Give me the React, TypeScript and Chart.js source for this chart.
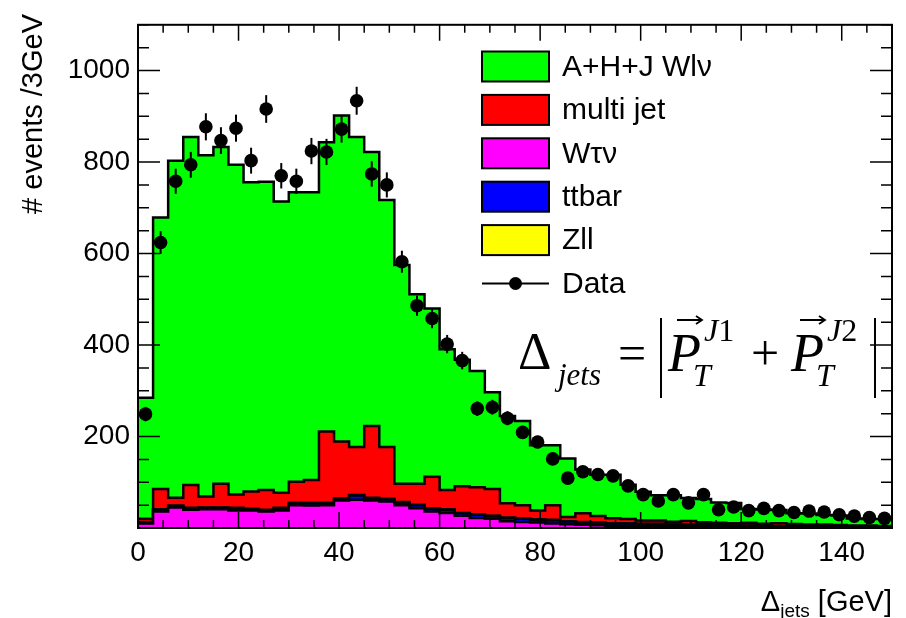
import React, { useEffect, useRef } from 'react';
import { Chart, registerables } from 'chart.js';

Chart.register(...registerables);

// ---------------- data ----------------
const BIN_WIDTH = 3; // GeV
const binLowEdges = [
  0, 3, 6, 9, 12, 15, 18, 21, 24, 27,
  30, 33, 36, 39, 42, 45, 48, 51, 54, 57,
  60, 63, 66, 69, 72, 75, 78, 81, 84, 87,
  90, 93, 96, 99, 102, 105, 108, 111, 114, 117,
  120, 123, 126, 129, 132, 135, 138, 141, 144, 147,
];

// A+H+J W->l nu
const wlnu = [
  265, 594, 737, 761, 746, 736, 721, 676, 674, 637,
  633, 629, 632, 713, 678, 599, 540, 478, 414, 368,
  308, 277, 254, 212, 191, 184, 143, 131, 128, 96,
  90, 95, 75, 63, 55, 58, 50, 51, 44, 44,
  30, 31, 29, 24, 24, 21, 21, 15, 14, 15,
];
const multijet = [
  7, 44, 17, 50, 24, 52, 29, 38, 43, 33,
  46, 50, 156, 124, 105, 157, 113, 40, 46, 69,
  42, 58, 59, 58, 31, 29, 19, 32, 9, 19,
  14, 11, 9, 7, 7, 6, 8, 5, 5, 5,
  6, 4, 6, 4, 3, 4, 3, 3, 3, 2,
];
const wtaunu = [
  10, 36, 45, 40, 41, 41, 38, 38, 36, 38,
  50, 49, 50, 60, 62, 60, 58, 50, 43, 36,
  33, 27, 22, 20, 15, 13, 12, 10, 8, 7,
  6, 5, 5, 4, 4, 3, 3, 3, 3, 2,
  2, 2, 2, 2, 2, 1, 1, 1, 1, 1,
];
const ttbar = [
  2, 4, 3, 3, 3, 3, 5, 3, 3, 5,
  4, 5, 4, 4, 9, 5, 5, 6, 7, 6,
  7, 5, 7, 6, 7, 7, 6, 7, 6, 5,
  6, 5, 5, 5, 5, 4, 4, 4, 3, 3,
  3, 3, 2, 2, 2, 2, 2, 1, 1, 1,
];
const zll = [
  1, 1, 1, 1, 1, 1, 1, 1, 1, 1,
  1, 1, 1, 1, 1, 1, 1, 1, 1, 1,
  1, 1, 1, 1, 1, 1, 1, 1, 1, 1,
  0.5, 0.5, 0.5, 0.5, 0.5, 0.5, 0.5, 0.5, 0.5, 0.5,
  0.5, 0.5, 0.5, 0.5, 0.5, 0.5, 0.5, 0.5, 0.5, 0.5,
];
const dataCounts = [
  249, 624, 758, 794, 877, 847, 874, 803, 916, 770,
  758, 824, 822, 872, 934, 774, 750, 582, 486, 458,
  402, 366, 261, 264, 240, 209, 188, 151, 109, 123,
  117, 114, 92, 73, 59, 73, 55, 73, 40, 46,
  38, 43, 38, 34, 37, 35, 29, 26, 23, 21,
];

const xTickValues = [0, 20, 40, 60, 80, 100, 120, 140];
const yTickValues = [200, 400, 600, 800, 1000];

const seriesNames = ['A+H+J Wl\u03bd', 'multi jet', 'W\u03c4\u03bd', 'ttbar', 'Zll'];
const seriesColors = ['#00ff00', '#ff0000', '#ff00ff', '#0000ff', '#ffff00'];

const X_MIN = 0;
const X_MAX = 150;
const Y_MAX = 1100;

const SANS = '"Liberation Sans", Arial, Helvetica, sans-serif';
const SERIF = '"Liberation Serif", "Times New Roman", serif';

// ---------------- helpers ----------------
function cumulate(parts: number[][]): number[] {
  return parts[0].map((_, i) => parts.reduce((s, p) => s + p[i], 0));
}
function histPoints(values: number[]) {
  const pts: { x: number; y: number }[] = [];
  values.forEach((v, i) => {
    pts.push({ x: binLowEdges[i], y: v });
    pts.push({ x: binLowEdges[i] + BIN_WIDTH, y: v });
  });
  return pts;
}

const rootPlugin = {
  id: 'rootStyle',
  afterDatasetsDraw(chart: any) {
    const { ctx, chartArea: a, scales } = chart;
    const xs = scales.x;
    const ys = scales.y;
    ctx.save();

    // error bars on data
    ctx.strokeStyle = '#000';
    ctx.lineWidth = 2;
    dataCounts.forEach((n, i) => {
      const cx = xs.getPixelForValue(binLowEdges[i] + BIN_WIDTH / 2);
      const e = Math.sqrt(n);
      ctx.beginPath();
      ctx.moveTo(cx, ys.getPixelForValue(n - e));
      ctx.lineTo(cx, ys.getPixelForValue(n + e));
      ctx.stroke();
    });

    // frame
    ctx.lineWidth = 2;
    ctx.strokeRect(a.left, a.top, a.right - a.left, a.bottom - a.top);

    // y ticks (inside, both sides)
    ctx.lineWidth = 1.5;
    for (let v = 0; v <= Y_MAX; v += 50) {
      const py = ys.getPixelForValue(v);
      const major = v % 200 === 0;
      const len = major ? 22 : 11;
      ctx.beginPath();
      ctx.moveTo(a.left, py);
      ctx.lineTo(a.left + len, py);
      ctx.moveTo(a.right, py);
      ctx.lineTo(a.right - len, py);
      ctx.stroke();
    }
    // x ticks (inside, bottom and top)
    for (let v = 0; v <= X_MAX; v += 5) {
      const px = xs.getPixelForValue(v);
      const major = v % 20 === 0;
      const len = major ? 16 : 8;
      ctx.beginPath();
      ctx.moveTo(px, a.bottom);
      ctx.lineTo(px, a.bottom - len);
      ctx.moveTo(px, a.top);
      ctx.lineTo(px, a.top + len);
      ctx.stroke();
    }

    // legend
    const lx = 482;
    const bw = 67;
    const bh = 30;
    const y0 = 66.5;
    const dy = 43.4;
    ctx.font = `30px ${SANS}`;
    ctx.textBaseline = 'middle';
    ctx.textAlign = 'left';
    seriesNames.forEach((name, i) => {
      const cy = y0 + i * dy;
      ctx.fillStyle = seriesColors[i];
      ctx.fillRect(lx, cy - bh / 2, bw, bh);
      ctx.strokeStyle = '#000';
      ctx.lineWidth = 2;
      ctx.strokeRect(lx, cy - bh / 2, bw, bh);
      ctx.fillStyle = '#000';
      ctx.fillText(name, 562, cy + 1);
    });
    {
      const cy = y0 + 5 * dy;
      ctx.strokeStyle = '#000';
      ctx.lineWidth = 2;
      ctx.beginPath();
      ctx.moveTo(lx, cy);
      ctx.lineTo(lx + bw, cy);
      ctx.stroke();
      ctx.beginPath();
      ctx.arc(lx + bw / 2, cy, 6.5, 0, Math.PI * 2);
      ctx.fillStyle = '#000';
      ctx.fill();
      ctx.fillText('Data', 562, cy + 1);
    }

    // formula  Δ_jets = | P_T^J1 + P_T^J2 |
    ctx.fillStyle = '#000';
    ctx.textBaseline = 'alphabetic';
    ctx.font = `52px ${SERIF}`;
    ctx.fillText('\u0394', 518, 369);
    ctx.font = `italic 31px ${SERIF}`;
    ctx.fillText('jets', 558, 385);
    ctx.font = `50px ${SERIF}`;
    ctx.fillText('=', 618, 370);
    ctx.lineWidth = 2;
    ctx.beginPath();
    ctx.moveTo(661, 318);
    ctx.lineTo(661, 398);
    ctx.moveTo(875, 318);
    ctx.lineTo(875, 398);
    ctx.stroke();
    const drawP = (px: number, sup: string) => {
      ctx.font = `italic 54px ${SERIF}`;
      ctx.fillText('P', px, 371);
      // vector arrow
      const ax0 = px + 9;
      const ax1 = px + 34;
      const ay = 320;
      ctx.lineWidth = 1.8;
      ctx.beginPath();
      ctx.moveTo(ax0, ay);
      ctx.lineTo(ax1, ay);
      ctx.moveTo(ax1 - 6, ay - 4);
      ctx.lineTo(ax1, ay);
      ctx.lineTo(ax1 - 6, ay + 4);
      ctx.stroke();
      ctx.font = `italic 32px ${SERIF}`;
      ctx.fillText('J', px + 36, 341);
      const jw = ctx.measureText('J').width;
      ctx.font = `32px ${SERIF}`;
      ctx.fillText(sup, px + 36 + jw, 341);
      ctx.font = `italic 32px ${SERIF}`;
      ctx.fillText('T', px + 25, 386);
    };
    drawP(668, '1');
    ctx.font = `50px ${SERIF}`;
    ctx.fillText('+', 751, 370);
    drawP(791, '2');

    // axis titles
    ctx.fillStyle = '#000';
    ctx.textBaseline = 'alphabetic';
    const tBase = 611;
    const partA = '\u0394';
    const partB = 'jets';
    const partC = ' [GeV]';
    ctx.font = `29px ${SANS}`;
    const wA = ctx.measureText(partA).width;
    const wC = ctx.measureText(partC).width;
    ctx.font = `19px ${SANS}`;
    const wB = ctx.measureText(partB).width;
    let x = a.right - (wA + wB + wC);
    ctx.font = `29px ${SANS}`;
    ctx.fillText(partA, x, tBase);
    x += wA;
    ctx.font = `19px ${SANS}`;
    ctx.fillText(partB, x, tBase + 6);
    x += wB;
    ctx.font = `29px ${SANS}`;
    ctx.fillText(partC, x, tBase);

    // y title rotated, aligned to top
    ctx.save();
    ctx.translate(34, 14);
    ctx.rotate(-Math.PI / 2);
    ctx.textAlign = 'right';
    ctx.textBaseline = 'middle';
    ctx.font = `29px ${SANS}`;
    ctx.fillText('# events /3GeV', 0, 0);
    ctx.restore();

    ctx.restore();
  },
};

export default function App() {
  const canvasRef = useRef<HTMLCanvasElement | null>(null);

  useEffect(() => {
    const canvas = canvasRef.current;
    if (!canvas) return;

    // stack order bottom -> top
    const cWtau = cumulate([wtaunu]);
    const cTt = cumulate([wtaunu, ttbar]);
    const cZll = cumulate([wtaunu, ttbar, zll]);
    const cMj = cumulate([wtaunu, ttbar, zll, multijet]);
    const cAll = cumulate([wtaunu, ttbar, zll, multijet, wlnu]);

    const histDs = (label: string, values: number[], color: string) => ({
      type: 'line' as const,
      label,
      data: histPoints(values),
      borderColor: '#000',
      borderWidth: 2.5,
      backgroundColor: color,
      fill: 'origin',
      pointRadius: 0,
      tension: 0,
    });

    const chart = new Chart(canvas, {
      type: 'line',
      data: {
        datasets: [
          {
            type: 'scatter' as const,
            label: 'Data',
            data: dataCounts.map((n, i) => ({ x: binLowEdges[i] + BIN_WIDTH / 2, y: n })),
            pointRadius: 6.8,
            pointBackgroundColor: '#000',
            pointBorderColor: '#000',
            pointBorderWidth: 0,
            showLine: false,
          } as any,
          histDs(seriesNames[2], cWtau, seriesColors[2]),
          histDs(seriesNames[3], cTt, seriesColors[3]),
          histDs(seriesNames[4], cZll, seriesColors[4]),
          histDs(seriesNames[1], cMj, seriesColors[1]),
          histDs(seriesNames[0], cAll, seriesColors[0]),
        ],
      },
      options: {
        responsive: false,
        animation: false,
        devicePixelRatio: 1,
        layout: { padding: { top: 10, right: 14, left: 0, bottom: 0 } },
        plugins: {
          legend: { display: false },
          tooltip: { enabled: false },
          title: { display: false },
        },
        scales: {
          x: {
            type: 'linear',
            min: X_MIN,
            max: X_MAX,
            grid: { display: false, drawTicks: false },
            border: { display: false },
            afterBuildTicks: (scale: any) => {
              scale.ticks = xTickValues.map((v) => ({ value: v }));
            },
            afterFit: (scale: any) => {
              scale.height = 90;
            },
            ticks: {
              autoSkip: false,
              maxRotation: 0,
              padding: 8,
              color: '#000',
              font: { family: SANS, size: 28 },
              callback: (v: any) => String(v),
            },
          },
          y: {
            type: 'linear',
            min: 0,
            max: Y_MAX,
            grid: { display: false, drawTicks: false },
            border: { display: false },
            afterBuildTicks: (scale: any) => {
              scale.ticks = yTickValues.map((v) => ({ value: v }));
            },
            afterFit: (scale: any) => {
              scale.width = 138;
            },
            ticks: {
              autoSkip: false,
              padding: 8,
              color: '#000',
              font: { family: SANS, size: 28 },
              callback: (v: any) => String(v),
            },
          },
        },
      },
      plugins: [rootPlugin],
    });

    return () => chart.destroy();
  }, []);

  return (
    <div style={{ position: 'absolute', left: 0, top: 0, width: 906, height: 618, background: '#fff' }}>
      <canvas ref={canvasRef} width={906} height={618} />
    </div>
  );
}
